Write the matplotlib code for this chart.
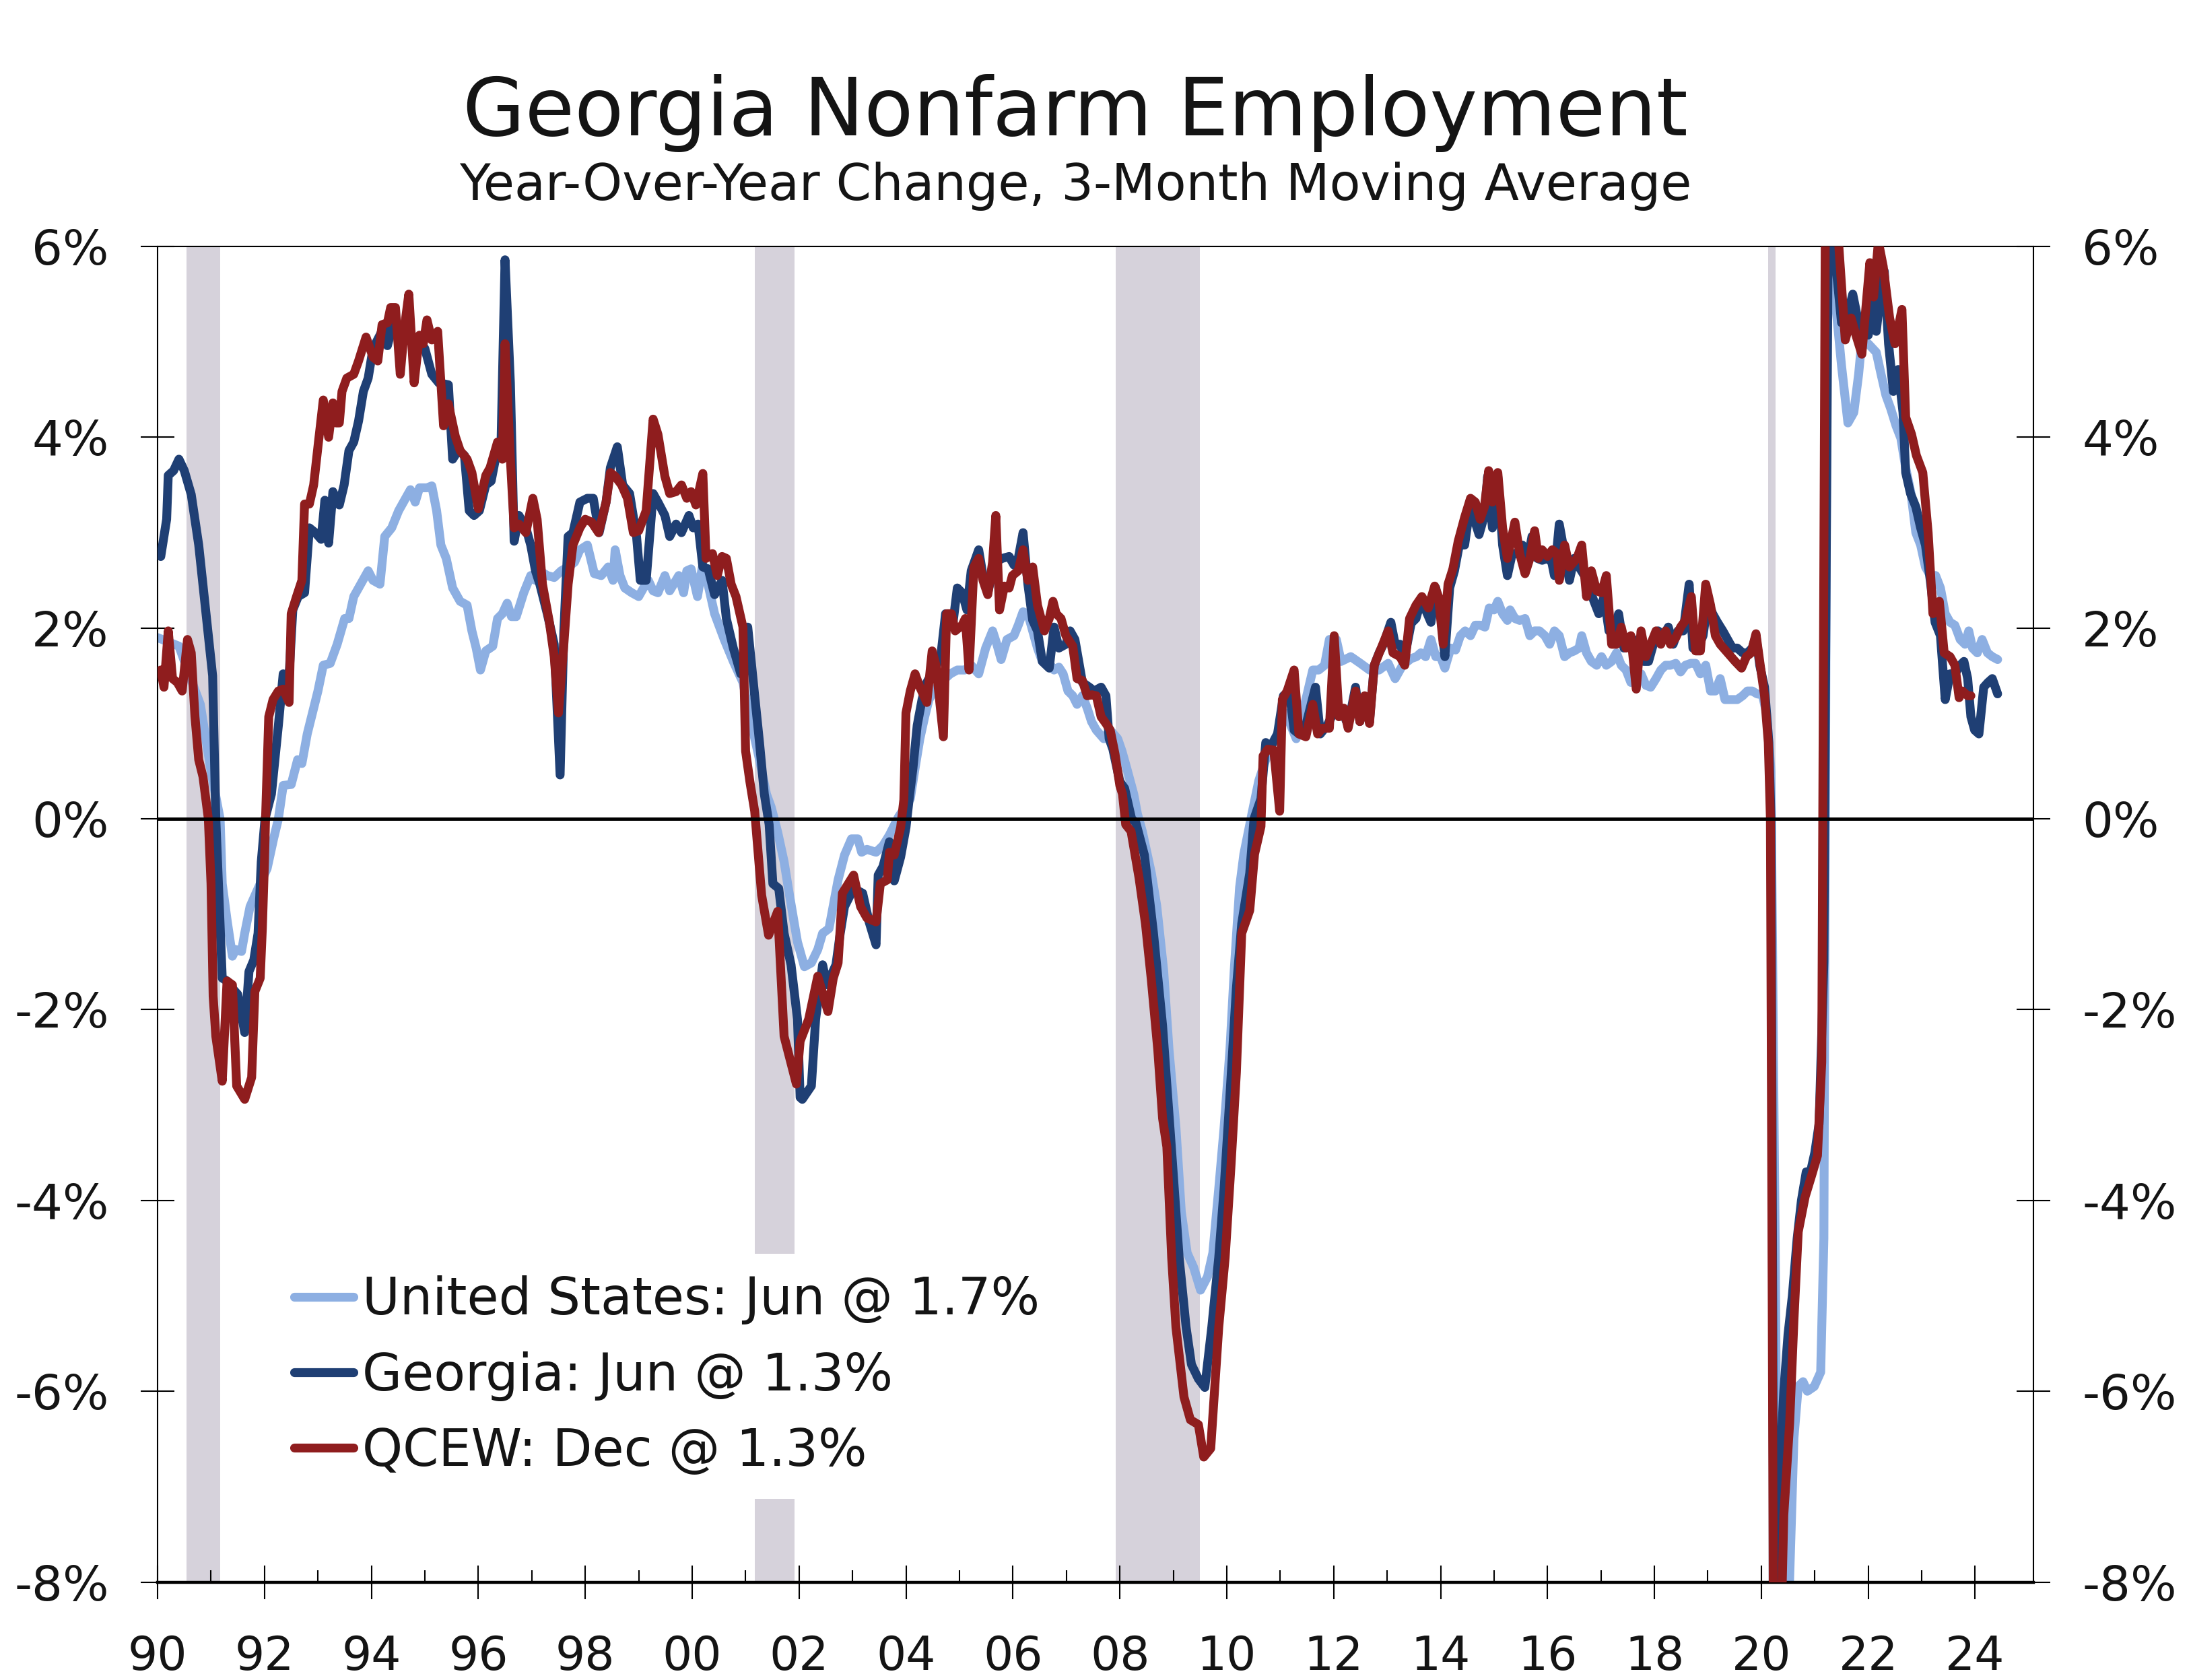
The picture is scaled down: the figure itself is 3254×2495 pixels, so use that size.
import matplotlib
matplotlib.use("Agg")
import matplotlib.pyplot as plt
import numpy as np

# ---------------- data (decimal years, % values) ----------------
us_t = [1990.00,1990.40,1990.60,1990.80,1991.00,1991.17,1991.21,1991.30,1991.40,1991.46,1991.57,1991.63,1991.73,1991.88,
        1992.05,1992.17,1992.26,1992.35,1992.50,1992.62,1992.70,1992.80,1992.92,1993.00,1993.10,1993.23,1993.36,1993.50,
        1993.58,1993.67,1993.80,1993.94,1994.03,1994.16,1994.25,1994.38,1994.51,1994.64,1994.73,1994.82,1994.90,1995.04,
        1995.13,1995.22,1995.30,1995.40,1995.52,1995.66,1995.79,1995.88,1995.96,1996.04,1996.14,1996.27,1996.36,1996.45,
        1996.54,1996.62,1996.71,1996.85,1996.98,1997.07,1997.15,1997.29,1997.42,1997.55,1997.68,1997.80,1997.90,1998.04,
        1998.17,1998.30,1998.43,1998.52,1998.56,1998.65,1998.74,1998.87,1999.00,1999.09,1999.18,1999.27,1999.36,1999.49,
        1999.58,1999.75,1999.84,1999.90,1999.98,2000.10,2000.19,2000.28,2000.42,2000.60,2000.77,2000.95,2001.08,2001.26,
        2001.39,2001.48,2001.60,2001.72,2001.80,2001.97,2002.10,2002.23,2002.35,2002.44,2002.56,2002.73,2002.85,2002.98,
        2003.10,2003.17,2003.27,2003.44,2003.57,2003.69,2003.86,2003.98,2004.08,2004.17,2004.26,2004.35,2004.43,2004.52,
        2004.65,2004.83,2004.96,2005.10,2005.22,2005.36,2005.49,2005.62,2005.70,2005.78,2005.89,2006.02,2006.10,2006.19,
        2006.28,2006.37,2006.46,2006.55,2006.68,2006.77,2006.86,2006.94,2007.03,2007.12,2007.20,2007.30,2007.39,2007.47,
        2007.56,2007.70,2007.82,2007.96,2008.04,2008.13,2008.26,2008.33,2008.42,2008.59,2008.69,2008.82,2008.92,2009.05,
        2009.15,2009.26,2009.38,2009.51,2009.64,2009.74,2009.85,2009.95,2010.06,2010.14,2010.24,2010.32,2010.47,2010.60,
        2010.73,2010.86,2010.99,2011.10,2011.17,2011.30,2011.48,2011.61,2011.72,2011.83,2011.92,2012.05,2012.14,2012.32,
        2012.50,2012.67,2012.85,2013.02,2013.15,2013.29,2013.45,2013.55,2013.63,2013.72,2013.82,2013.91,2014.00,2014.08,
        2014.19,2014.28,2014.37,2014.46,2014.56,2014.65,2014.74,2014.83,2014.91,2015.00,2015.07,2015.16,2015.25,2015.30,
        2015.39,2015.48,2015.58,2015.67,2015.76,2015.85,2015.95,2016.04,2016.13,2016.22,2016.32,2016.41,2016.50,2016.59,
        2016.64,2016.73,2016.82,2016.92,2017.01,2017.10,2017.20,2017.29,2017.38,2017.47,2017.56,2017.66,2017.75,2017.84,
        2017.93,2018.03,2018.12,2018.21,2018.30,2018.40,2018.49,2018.58,2018.68,2018.77,2018.86,2018.96,2019.05,2019.14,
        2019.23,2019.32,2019.42,2019.55,2019.65,2019.74,2019.83,2019.92,2020.02,2020.10,2020.18,2020.26,2020.34,2020.42,
        2020.50,2020.61,2020.69,2020.78,2020.86,2020.99,2021.11,2021.17,2021.25,2021.33,2021.40,2021.50,2021.62,2021.73,
        2021.82,2021.88,2022.00,2022.15,2022.24,2022.33,2022.42,2022.52,2022.61,2022.70,2022.80,2022.89,2022.98,2023.07,
        2023.16,2023.26,2023.35,2023.44,2023.53,2023.62,2023.72,2023.81,2023.88,2023.95,2024.04,2024.13,2024.23,2024.32,
        2024.42]
us_v = [1.90,1.81,1.50,1.20,0.50,0.00,-0.68,-1.06,-1.44,-1.37,-1.39,-1.20,-0.92,-0.73,
        -0.52,-0.21,0.00,0.35,0.36,0.62,0.58,0.89,1.16,1.34,1.61,1.63,1.83,2.10,
        2.10,2.33,2.46,2.60,2.50,2.46,2.96,3.05,3.23,3.36,3.45,3.32,3.47,3.47,
        3.49,3.23,2.87,2.73,2.42,2.28,2.24,1.97,1.79,1.56,1.76,1.81,2.10,2.15,
        2.26,2.12,2.12,2.37,2.55,2.50,2.60,2.55,2.53,2.60,2.64,2.69,2.82,2.87,
        2.57,2.55,2.64,2.50,2.82,2.55,2.42,2.37,2.33,2.42,2.50,2.39,2.37,2.55,
        2.39,2.55,2.37,2.60,2.62,2.33,2.64,2.50,2.15,1.88,1.65,1.43,1.07,0.62,
        0.26,0.12,-0.14,-0.45,-0.73,-1.29,-1.55,-1.51,-1.37,-1.20,-1.15,-0.64,-0.38,-0.21,
        -0.21,-0.35,-0.32,-0.35,-0.28,-0.17,0.02,0.12,0.21,0.53,0.84,1.07,1.25,1.34,
        1.43,1.52,1.56,1.56,1.61,1.52,1.79,1.97,1.83,1.67,1.88,1.92,2.03,2.17,
        2.15,1.97,1.79,1.65,1.63,1.56,1.59,1.52,1.34,1.29,1.20,1.29,1.16,1.02,
        0.93,0.84,0.93,0.84,0.71,0.53,0.26,0.05,-0.13,-0.57,-0.91,-1.59,-2.42,-3.24,
        -4.12,-4.55,-4.70,-4.94,-4.80,-4.55,-3.88,-3.24,-2.42,-1.59,-0.72,-0.37,0.05,0.40,
        0.62,0.80,0.93,1.11,1.02,0.84,1.25,1.56,1.56,1.61,1.88,1.88,1.65,1.70,
        1.63,1.56,1.56,1.63,1.47,1.61,1.68,1.70,1.74,1.70,1.88,1.70,1.70,1.58,
        1.79,1.77,1.92,1.97,1.92,2.03,2.03,2.01,2.21,2.19,2.28,2.15,2.08,2.19,
        2.10,2.08,2.10,1.92,1.97,1.97,1.92,1.83,1.97,1.92,1.70,1.74,1.76,1.79,
        1.92,1.74,1.65,1.61,1.70,1.61,1.65,1.74,1.61,1.56,1.43,1.47,1.52,1.40,
        1.38,1.47,1.56,1.61,1.61,1.63,1.54,1.61,1.63,1.63,1.52,1.61,1.34,1.34,
        1.47,1.25,1.25,1.25,1.29,1.34,1.34,1.31,1.30,1.10,0.50,-4.50,-11.0,-12.5,
        -8.50,-6.49,-5.95,-5.90,-6.00,-5.95,-5.80,-4.40,8.50,5.80,5.34,4.75,4.15,4.26,
        4.66,5.02,4.98,4.89,4.66,4.44,4.30,4.12,3.99,3.68,3.41,3.00,2.87,2.64,
        2.55,2.55,2.42,2.15,2.06,2.03,1.88,1.83,1.97,1.79,1.74,1.88,1.74,1.70,
        1.67]

ga_t = [1990.06,1990.17,1990.20,1990.30,1990.40,1990.50,1990.63,1990.77,1990.94,1991.03,1991.09,1991.21,1991.30,1991.42,
        1991.50,1991.63,1991.71,1991.80,1991.88,1991.94,1992.01,1992.13,1992.26,1992.35,1992.45,1992.53,1992.63,1992.75,
        1992.84,1992.95,1993.06,1993.13,1993.20,1993.28,1993.40,1993.49,1993.58,1993.67,1993.76,1993.85,1993.94,1994.03,
        1994.16,1994.25,1994.30,1994.37,1994.45,1994.55,1994.65,1994.75,1994.85,1995.00,1995.13,1995.26,1995.44,1995.52,
        1995.62,1995.74,1995.83,1995.92,1996.02,1996.14,1996.24,1996.32,1996.42,1996.50,1996.60,1996.67,1996.76,1996.89,
        1996.98,1997.07,1997.15,1997.29,1997.42,1997.53,1997.60,1997.68,1997.77,1997.90,1998.04,1998.15,1998.26,1998.39,
        1998.47,1998.60,1998.70,1998.83,1998.96,1999.03,1999.14,1999.27,1999.36,1999.49,1999.58,1999.70,1999.80,1999.94,
        2000.02,2000.11,2000.20,2000.30,2000.42,2000.56,2000.64,2000.77,2000.91,2001.04,2001.17,2001.26,2001.35,2001.44,
        2001.51,2001.62,2001.72,2001.85,2001.97,2002.02,2002.06,2002.23,2002.31,2002.44,2002.52,2002.69,2002.77,2002.85,
        2003.02,2003.19,2003.31,2003.44,2003.48,2003.57,2003.69,2003.78,2003.90,2004.00,2004.07,2004.13,2004.21,2004.30,
        2004.39,2004.52,2004.65,2004.74,2004.87,2004.96,2005.05,2005.14,2005.22,2005.36,2005.44,2005.53,2005.66,2005.80,
        2005.93,2006.02,2006.10,2006.19,2006.28,2006.37,2006.46,2006.55,2006.68,2006.77,2006.86,2006.99,2007.07,2007.16,
        2007.30,2007.43,2007.52,2007.65,2007.74,2007.80,2007.87,2008.00,2008.09,2008.22,2008.30,2008.46,2008.63,2008.80,
        2008.97,2009.11,2009.24,2009.34,2009.47,2009.59,2009.72,2009.85,2009.95,2010.06,2010.18,2010.28,2010.43,2010.51,
        2010.64,2010.73,2010.82,2010.95,2011.06,2011.17,2011.26,2011.35,2011.44,2011.52,2011.66,2011.75,2011.88,2011.96,
        2012.05,2012.14,2012.27,2012.41,2012.49,2012.58,2012.67,2012.76,2012.85,2012.93,2013.07,2013.15,2013.24,2013.33,
        2013.45,2013.54,2013.63,2013.72,2013.82,2013.91,2014.00,2014.08,2014.17,2014.26,2014.35,2014.45,2014.54,2014.63,
        2014.72,2014.82,2014.88,2014.97,2015.07,2015.16,2015.25,2015.34,2015.43,2015.53,2015.62,2015.71,2015.81,2015.90,
        2016.00,2016.08,2016.13,2016.22,2016.32,2016.41,2016.50,2016.59,2016.69,2016.78,2016.87,2016.96,2017.06,2017.15,
        2017.24,2017.33,2017.43,2017.52,2017.61,2017.70,2017.80,2017.89,2017.98,2018.07,2018.17,2018.26,2018.35,2018.44,
        2018.54,2018.65,2018.72,2018.81,2018.91,2019.00,2019.09,2019.18,2019.28,2019.37,2019.46,2019.55,2019.65,2019.74,
        2019.83,2019.90,2019.97,2020.06,2020.14,2020.18,2020.25,2020.33,2020.42,2020.50,2020.58,2020.67,2020.75,2020.84,
        2020.92,2021.00,2021.08,2021.17,2021.27,2021.36,2021.50,2021.60,2021.71,2021.80,2021.88,2022.00,2022.10,2022.15,
        2022.24,2022.30,2022.38,2022.47,2022.56,2022.65,2022.70,2022.79,2022.89,2022.98,2023.07,2023.16,2023.25,2023.35,
        2023.44,2023.53,2023.62,2023.72,2023.79,2023.86,2023.92,2023.99,2024.07,2024.16,2024.24,2024.32,2024.42]
ga_v = [2.75,3.14,3.60,3.65,3.77,3.65,3.40,2.87,1.97,1.50,0.00,-1.67,-1.70,-1.79,
        -1.84,-2.24,-1.60,-1.48,-1.20,-0.45,0.00,0.26,0.98,1.52,1.40,2.19,2.33,2.37,
        3.05,3.00,2.93,3.34,2.89,3.43,3.29,3.50,3.86,3.95,4.17,4.48,4.62,4.93,
        5.07,5.18,4.96,5.11,5.20,5.05,5.15,5.00,5.05,4.93,4.66,4.57,4.55,3.77,
        3.86,3.81,3.23,3.18,3.23,3.50,3.54,3.77,3.81,5.86,4.57,2.91,3.18,3.05,
        2.87,2.60,2.46,2.15,1.83,0.46,1.97,2.96,3.00,3.32,3.36,3.36,3.00,3.32,
        3.68,3.90,3.50,3.41,2.96,2.50,2.50,3.41,3.32,3.18,2.96,3.09,3.00,3.18,
        3.05,3.09,2.64,2.62,2.35,2.50,2.10,1.79,1.52,2.01,1.29,0.80,0.26,-0.06,
        -0.68,-0.73,-1.20,-1.53,-2.10,-2.92,-2.94,-2.80,-2.10,-1.53,-1.74,-1.53,-1.20,-0.92,
        -0.73,-0.78,-1.08,-1.32,-0.59,-0.50,-0.24,-0.65,-0.40,-0.09,0.26,0.53,0.98,1.25,
        1.43,1.56,1.70,2.15,2.01,2.42,2.37,2.19,2.60,2.82,2.55,2.37,2.69,2.73,
        2.75,2.66,2.73,3.00,2.46,2.08,1.97,1.65,1.58,2.01,1.79,1.83,1.97,1.88,
        1.43,1.38,1.34,1.38,1.29,0.84,0.73,0.39,0.32,0.00,-0.04,-0.38,-1.20,-2.17,
        -3.49,-4.60,-5.33,-5.72,-5.87,-5.96,-5.33,-4.60,-3.88,-2.90,-1.78,-1.10,-0.57,0.00,
        0.21,0.80,0.75,0.89,1.29,1.34,0.93,0.89,0.89,1.07,1.38,0.89,0.98,1.07,
        1.16,1.16,0.98,1.38,1.02,1.25,1.02,1.61,1.74,1.83,2.06,1.83,1.83,1.70,
        2.05,2.10,2.28,2.19,2.06,2.42,2.15,1.70,2.42,2.60,2.87,2.87,3.23,3.14,
        2.98,3.18,3.59,3.05,3.59,2.87,2.55,2.78,2.78,2.87,2.69,2.96,2.73,2.71,
        2.73,2.69,2.55,3.09,2.78,2.50,2.73,2.64,2.55,2.42,2.28,2.15,2.33,1.97,
        1.97,2.15,1.79,1.88,1.88,1.74,1.65,1.65,1.83,1.97,1.92,2.01,1.83,1.97,
        1.97,2.46,1.79,1.79,1.92,2.28,2.15,2.06,1.97,1.88,1.79,1.79,1.74,1.74,
        1.79,1.92,1.61,1.38,0.80,0.00,-11.0,-7.00,-6.00,-5.40,-5.00,-4.40,-4.00,-3.70,
        -3.70,-3.50,-3.20,-1.50,8.00,6.00,5.20,5.25,5.50,5.25,5.11,5.07,5.45,5.11,
        5.56,5.74,4.98,4.48,4.71,4.26,3.63,3.41,3.27,3.05,2.87,2.50,2.06,1.92,
        1.25,1.52,1.52,1.61,1.65,1.47,1.07,0.93,0.89,1.38,1.43,1.47,1.31]

qcew_t = [1990.06,1990.12,1990.20,1990.28,1990.37,1990.46,1990.56,1990.63,1990.70,1990.77,1990.85,1990.95,1991.00,1991.04,
          1991.09,1991.21,1991.30,1991.40,1991.48,1991.63,1991.76,1991.82,1991.92,1991.96,1992.00,1992.02,1992.08,1992.16,
          1992.26,1992.35,1992.46,1992.50,1992.60,1992.70,1992.75,1992.84,1992.92,1993.01,1993.10,1993.20,1993.28,1993.34,
          1993.40,1993.45,1993.54,1993.67,1993.76,1993.90,1994.03,1994.12,1994.20,1994.30,1994.36,1994.45,1994.54,1994.62,
          1994.70,1994.80,1994.90,1994.97,1995.04,1995.13,1995.24,1995.35,1995.44,1995.57,1995.66,1995.79,1995.88,1996.00,
          1996.14,1996.22,1996.36,1996.45,1996.50,1996.60,1996.67,1996.76,1996.89,1997.02,1997.10,1997.20,1997.33,1997.42,
          1997.50,1997.60,1997.68,1997.77,1997.90,1998.00,1998.12,1998.25,1998.39,1998.47,1998.56,1998.68,1998.79,1998.90,
          1999.00,1999.14,1999.27,1999.36,1999.49,1999.58,1999.70,1999.80,1999.90,1999.98,2000.07,2000.20,2000.26,2000.38,
          2000.47,2000.56,2000.64,2000.73,2000.82,2000.95,2001.00,2001.08,2001.17,2001.30,2001.43,2001.60,2001.72,2001.83,
          2001.95,2002.02,2002.18,2002.35,2002.54,2002.64,2002.73,2002.81,2003.02,2003.15,2003.27,2003.44,2003.52,2003.65,
          2003.69,2003.78,2003.90,2003.96,2004.00,2004.08,2004.17,2004.26,2004.39,2004.49,2004.56,2004.70,2004.76,2004.85,
          2004.92,2005.05,2005.11,2005.18,2005.27,2005.36,2005.44,2005.53,2005.62,2005.68,2005.75,2005.84,2005.93,2005.99,
          2006.10,2006.19,2006.28,2006.37,2006.46,2006.59,2006.68,2006.75,2006.81,2006.90,2006.99,2007.12,2007.20,2007.30,
          2007.39,2007.48,2007.56,2007.65,2007.74,2007.82,2007.91,2008.00,2008.05,2008.11,2008.21,2008.36,2008.48,2008.59,
          2008.71,2008.80,2008.88,2008.97,2009.05,2009.20,2009.32,2009.47,2009.57,2009.70,2009.85,2009.97,2010.08,2010.18,
          2010.28,2010.43,2010.52,2010.64,2010.68,2010.77,2010.88,2010.99,2011.04,2011.13,2011.26,2011.35,2011.48,2011.61,
          2011.70,2011.79,2011.92,2012.01,2012.10,2012.19,2012.27,2012.41,2012.49,2012.58,2012.67,2012.76,2012.89,2013.02,
          2013.11,2013.24,2013.33,2013.42,2013.54,2013.65,2013.77,2013.89,2013.96,2014.05,2014.14,2014.23,2014.33,2014.45,
          2014.56,2014.65,2014.74,2014.82,2014.90,2014.97,2015.07,2015.16,2015.25,2015.39,2015.48,2015.58,2015.67,2015.76,
          2015.83,2015.90,2016.00,2016.09,2016.18,2016.22,2016.32,2016.41,2016.55,2016.64,2016.73,2016.82,2016.92,2017.01,
          2017.10,2017.20,2017.29,2017.38,2017.47,2017.56,2017.66,2017.75,2017.84,2017.93,2018.03,2018.12,2018.21,2018.30,
          2018.40,2018.49,2018.58,2018.69,2018.77,2018.86,2018.96,2019.05,2019.14,2019.23,2019.37,2019.51,2019.63,2019.72,
          2019.81,2019.90,2019.97,2020.06,2020.13,2020.17,2020.25,2020.33,2020.42,2020.53,2020.61,2020.69,2020.82,2020.94,
          2021.05,2021.13,2021.21,2021.33,2021.45,2021.57,2021.68,2021.77,2021.88,2021.96,2022.03,2022.10,2022.19,2022.28,
          2022.40,2022.50,2022.63,2022.70,2022.81,2022.90,2023.02,2023.12,2023.21,2023.33,2023.42,2023.53,2023.62,2023.70,
          2023.76,2023.86,2023.92]
qcew_v = [1.56,1.38,1.97,1.47,1.43,1.34,1.88,1.74,1.07,0.62,0.44,0.00,-0.68,-1.86,
          -2.28,-2.75,-1.70,-1.74,-2.80,-2.94,-2.71,-1.81,-1.67,-1.15,-0.45,0.00,1.07,1.25,
          1.34,1.36,1.22,2.15,2.33,2.50,3.30,3.30,3.50,3.95,4.39,4.00,4.36,4.15,
          4.15,4.48,4.62,4.66,4.80,5.05,4.84,4.80,5.18,5.20,5.36,5.36,4.66,5.16,
          5.50,4.57,5.07,4.98,5.23,5.02,5.11,4.12,4.35,4.01,3.86,3.77,3.63,3.25,
          3.60,3.68,3.95,3.77,4.98,3.77,3.05,3.09,3.00,3.36,3.14,2.46,2.06,1.70,
          1.11,1.83,2.46,2.87,3.05,3.14,3.11,3.00,3.32,3.63,3.59,3.50,3.36,3.00,
          3.02,3.23,4.19,4.03,3.59,3.41,3.43,3.50,3.36,3.43,3.29,3.62,2.73,2.78,
          2.55,2.75,2.73,2.46,2.33,2.01,0.71,0.39,0.08,-0.80,-1.22,-0.97,-2.28,-2.52,
          -2.78,-2.33,-2.10,-1.65,-2.02,-1.67,-1.51,-0.78,-0.59,-0.92,-1.04,-1.08,-0.68,-0.64,
          -0.35,-0.38,-0.09,0.20,1.11,1.34,1.52,1.38,1.22,1.76,1.61,0.86,2.15,2.15,
          1.97,2.03,2.10,1.56,2.64,2.73,2.50,2.35,2.69,3.18,2.19,2.44,2.42,2.55,
          2.60,2.82,2.50,2.64,2.24,1.97,2.10,2.28,2.15,2.10,1.92,1.81,1.47,1.45,
          1.29,1.30,1.29,1.07,1.00,0.93,0.68,0.35,0.26,-0.06,-0.13,-0.62,-1.10,-1.69,
          -2.42,-3.14,-3.44,-4.60,-5.33,-6.06,-6.30,-6.35,-6.69,-6.60,-5.33,-4.60,-3.63,-2.66,
          -1.20,-0.96,-0.37,-0.08,0.66,0.73,0.72,0.08,1.25,1.34,1.56,0.89,0.86,1.20,
          0.89,0.95,0.95,1.92,1.07,1.16,0.95,1.34,1.02,1.29,1.00,1.61,1.79,1.97,
          1.74,1.70,1.61,2.10,2.24,2.33,2.21,2.44,2.33,1.83,2.46,2.62,2.91,3.16,
          3.36,3.32,3.14,3.27,3.65,3.32,3.63,3.05,2.73,3.11,2.78,2.57,2.73,3.02,
          2.73,2.82,2.75,2.82,2.78,2.50,2.87,2.64,2.73,2.87,2.33,2.60,2.39,2.37,
          2.55,1.83,1.83,2.01,1.79,1.92,1.36,1.97,1.70,1.83,1.97,1.83,1.97,1.83,
          1.90,2.01,2.08,2.33,1.76,1.76,2.46,2.24,1.92,1.83,1.74,1.65,1.58,1.70,
          1.74,1.94,1.65,1.29,0.80,0.00,-12.0,-9.50,-7.30,-6.33,-5.25,-4.33,-3.96,-3.74,
          -3.53,-2.55,8.00,8.50,6.00,5.02,5.25,5.07,4.87,5.38,5.83,5.47,6.05,5.79,
          5.25,4.98,5.34,4.21,4.03,3.81,3.63,3.00,2.15,2.28,1.74,1.70,1.61,1.27,
          1.34,1.29,1.29]

recession_start = [1990.54, 2001.17, 2007.92, 2020.13]
recession_end   = [1991.17, 2001.92, 2009.50, 2020.27]

series_labels = ["United States: Jun @ 1.7%", "Georgia: Jun @ 1.3%", "QCEW: Dec @ 1.3%"]
x_tick_years = list(range(1990, 2025, 2))
x_minor_years = list(range(1991, 2025, 2))
y_ticks = [-8, -6, -4, -2, 0, 2, 4, 6]

# ---------------- styling ----------------
c_us = "#8DAFE2"
c_ga = "#1F3F74"
c_qc = "#8F1D1E"
c_rec = "#D6D2DB"
c_txt = "#141414"

plt.rcParams['font.family'] = ['DejaVu Sans']

W, H, DPI = 3255, 2495, 100
fig = plt.figure(figsize=(W / DPI, H / DPI), dpi=DPI)
ax = fig.add_axes([234 / W, 1 - 2349.5 / H, (3020 - 234) / W, (2349.5 - 366) / H])

for s, e in zip(recession_start, recession_end):
    ax.axvspan(s, e, color=c_rec, lw=0, zorder=0)

lw = 9.5
kw = dict(lw=lw, solid_capstyle='round', solid_joinstyle='round')
ax.plot(us_t, us_v, color=c_us, zorder=2, label=series_labels[0], **kw)
ax.plot(ga_t, ga_v, color=c_ga, zorder=3, label=series_labels[1], **kw)
ax.plot(qcew_t, qcew_v, color=c_qc, zorder=4, label=series_labels[2], **kw)

ax.axhline(0, color='black', lw=3.5, zorder=5)

ax.set_xlim(1990, 2025.09)
ax.set_ylim(-8, 6)

ax.set_xticks(x_tick_years)
ax.set_xticklabels([f"{y % 100:02d}" for y in x_tick_years])
ax.set_xticks(x_minor_years, minor=True)
ax.set_yticks(y_ticks)
ax.set_yticklabels([f"{v}%" for v in y_ticks])

ax.tick_params(axis='x', which='major', direction='inout', length=36, width=1.5,
               labelsize=50, pad=38, colors='black')
ax.tick_params(axis='x', which='minor', direction='in', length=13, width=1.5)
ax.tick_params(axis='y', which='major', direction='inout', length=36, width=1.5,
               labelsize=52, pad=34, left=True, right=True, labelleft=True, labelright=True)
for lab in ax.get_xticklabels() + ax.get_yticklabels():
    lab.set_color(c_txt)

for sp in ['top', 'left', 'right']:
    ax.spines[sp].set_linewidth(1.5)
ax.spines['bottom'].set_linewidth(3.2)

leg = ax.legend(loc='upper left', bbox_to_anchor=(0.0611, 0.246), fontsize=55,
                frameon=True, fancybox=False, framealpha=1.0, edgecolor='none',
                facecolor='white', handlelength=1.15, handletextpad=0.17,
                labelspacing=0.50, borderpad=0.43, borderaxespad=0)
for t in leg.get_texts():
    t.set_color(c_txt)

fig.text(1597 / W, 1 - 201 / H, "Georgia Nonfarm Employment", ha='center', va='baseline',
         fontsize=86, color=c_txt)
fig.text(1597 / W, 1 - 297 / H, "Year-Over-Year Change, 3-Month Moving Average", ha='center',
         va='baseline', fontsize=54, color=c_txt)

fig.savefig("out.png", dpi=DPI)
